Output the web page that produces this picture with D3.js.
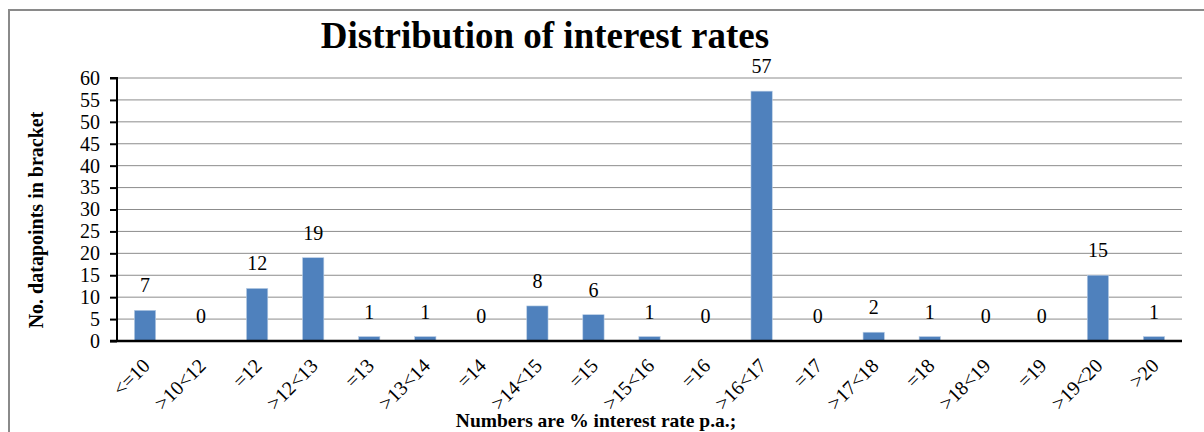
<!DOCTYPE html>
<html>
<head>
<meta charset="utf-8">
<script src="https://cdn.jsdelivr.net/npm/d3@7"></script>
<style>
  html, body { margin: 0; padding: 0; background: #fff; }
  svg { display: block; }
</style>
</head>
<body>
<svg id="chart" width="1204" height="432"></svg>
<script>
const categories = ["<=10", ">10<12", "=12", ">12<13", "=13", ">13<14", "=14", ">14<15", "=15", ">15<16", "=16", ">16<17", "=17", ">17<18", "=18", ">18<19", "=19", ">19<20", ">20"];
const counts = [7, 0, 12, 19, 1, 1, 0, 8, 6, 1, 0, 57, 0, 2, 1, 0, 0, 15, 1];
const yTicks = [0, 5, 10, 15, 20, 25, 30, 35, 40, 45, 50, 55, 60];
const titleText = "Distribution of interest rates";
const yTitle = "No. datapoints in bracket";
const xTitle = "Numbers are % interest rate p.a.;";

const FONT = "'Liberation Serif', 'Times New Roman', serif";
const svg = d3.select("#chart");

// outer chart border
svg.append("rect")
  .attr("x", 9).attr("y", 10)
  .attr("width", 1230).attr("height", 450)
  .attr("fill", "#fff")
  .attr("stroke", "#8a8a8a").attr("stroke-width", 2);

const pLeft = 117, pRight = 1182, pTop = 78, pBottom = 341;

const x = d3.scaleBand().domain(categories).range([pLeft, pRight]).paddingInner(0.62).paddingOuter(0.31);
const y = d3.scaleLinear().domain([0, 60]).range([pBottom, pTop]);

// gridlines
svg.append("g").selectAll("line")
  .data(yTicks.filter(d => d > 0))
  .join("line")
  .attr("x1", pLeft).attr("x2", pRight)
  .attr("y1", d => y(d)).attr("y2", d => y(d))
  .attr("stroke", "#8c8c8c").attr("stroke-width", 1);

// y axis
const yAxis = svg.append("g")
  .attr("transform", `translate(${pLeft},0)`)
  .call(d3.axisLeft(y).tickValues(yTicks).tickSize(7).tickPadding(10));
yAxis.select(".domain").attr("stroke", "#000").attr("stroke-width", 2).attr("d", `M-7,${pTop}H0V${pBottom}`);
yAxis.selectAll(".tick line").attr("stroke", "#000").attr("stroke-width", 2);
yAxis.selectAll(".tick text")
  .attr("font-family", FONT).attr("font-size", 20).attr("fill", "#000");

// bars
svg.append("g").selectAll("rect")
  .data(categories.map((c, i) => ({c, v: counts[i]})))
  .join("rect")
  .attr("x", d => x(d.c))
  .attr("width", x.bandwidth())
  .attr("y", d => y(d.v))
  .attr("height", d => y(0) - y(d.v))
  .attr("fill", "#4F81BD")
  .attr("stroke", "#b9cde5").attr("stroke-width", 0.6);

// baseline
svg.append("line")
  .attr("x1", pLeft - 7).attr("x2", pRight)
  .attr("y1", pBottom).attr("y2", pBottom)
  .attr("stroke", "#000").attr("stroke-width", 2.5);

// data labels
svg.append("g").selectAll("text")
  .data(categories.map((c, i) => ({c, v: counts[i]})))
  .join("text")
  .attr("x", d => x(d.c) + x.bandwidth() / 2)
  .attr("y", d => y(d.v) - 18)
  .attr("text-anchor", "middle")
  .attr("font-family", FONT).attr("font-size", 20).attr("fill", "#000")
  .text(d => d.v);

// x category labels
svg.append("g").selectAll("text")
  .data(categories)
  .join("text")
  .attr("transform", d => `translate(${x(d) + x.bandwidth() / 2 + 6},${pBottom + 26}) rotate(-45)`)
  .attr("text-anchor", "end")
  .attr("font-family", FONT).attr("font-size", 20).attr("fill", "#000")
  .text(d => d);

// title
svg.append("text")
  .attr("x", 545).attr("y", 48)
  .attr("text-anchor", "middle")
  .attr("font-family", FONT).attr("font-size", 37).attr("font-weight", "bold")
  .text(titleText);

// y title
svg.append("text")
  .attr("transform", `translate(43,220) rotate(-90)`)
  .attr("text-anchor", "middle")
  .attr("font-family", FONT).attr("font-size", 20).attr("font-weight", "bold")
  .text(yTitle);

// x title
svg.append("text")
  .attr("x", 596).attr("y", 427)
  .attr("text-anchor", "middle")
  .attr("font-family", FONT).attr("font-size", 19.5).attr("font-weight", "bold")
  .text(xTitle);
</script>
</body>
</html>
